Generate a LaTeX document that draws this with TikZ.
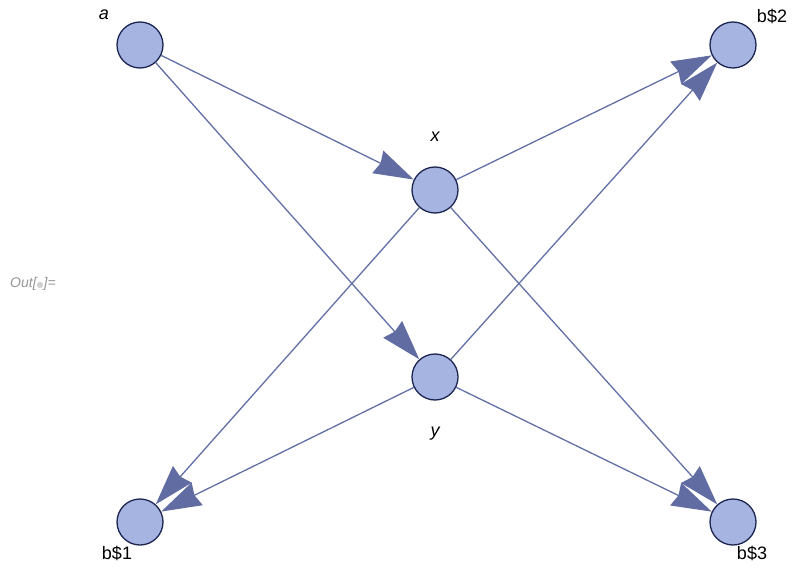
\documentclass[tikz,border=0pt]{standalone}
\usepackage{fontspec}
\setmainfont{Liberation Sans}
\newfontfamily\dejavu{DejaVu Sans}
\usetikzlibrary{arrows.meta}
\definecolor{edgec}{RGB}{98,112,165}
\definecolor{tipc}{RGB}{96,108,162}
\definecolor{nodefill}{RGB}{166,180,226}
\definecolor{nodeline}{RGB}{28,36,80}
\definecolor{outgray}{RGB}{150,150,150}
\tikzset{
  vert/.style={circle, draw=nodeline, line width=1.3pt, fill=nodefill, minimum size=46pt, inner sep=0pt},
  edge/.style={draw=edgec, line width=1.3pt, -{Stealth[length=40pt, width=25pt, inset=3pt, fill=tipc, color=tipc]}},
  lab/.style={font=\fontsize{18}{18}\selectfont, text=black, inner sep=0pt}
}
\begin{document}
\begin{tikzpicture}[x=1pt, y=-1pt]
\useasboundingbox (0,0) rectangle (797,572);
\node[vert] (a) at (140,45) {};
\node[vert] (x) at (435,190) {};
\node[vert] (y) at (435,377) {};
\node[vert] (b2) at (733,45) {};
\node[vert] (b1) at (140,522) {};
\node[vert] (b3) at (733,522) {};
\draw[edge] (a) -- (x);
\draw[edge] (a) -- (y);
\draw[edge] (x) -- (b2);
\draw[edge] (x) -- (b1);
\draw[edge] (x) -- (b3);
\draw[edge] (y) -- (b2);
\draw[edge] (y) -- (b1);
\draw[edge] (y) -- (b3);
\node[lab] (la) at (104,15) {\itshape a};
\node[lab] (lx) at (435,137) {\itshape x};
\node[lab] (ly) at (435,434) {\itshape y};
\node[lab] (lb2) at (772,16) {b\$2};
\node[lab] (lb1) at (117,553) {b\$1};
\node[lab] (lb3) at (752,553) {b\$3};
\node[font=\fontsize{14}{14}\selectfont\itshape, text=outgray, inner sep=0pt] (out) at (33,284) {Out[{\dejavu\upshape\fontsize{8}{8}\selectfont\textcolor{outgray!45}{●}}]=};
\end{tikzpicture}
\end{document}
